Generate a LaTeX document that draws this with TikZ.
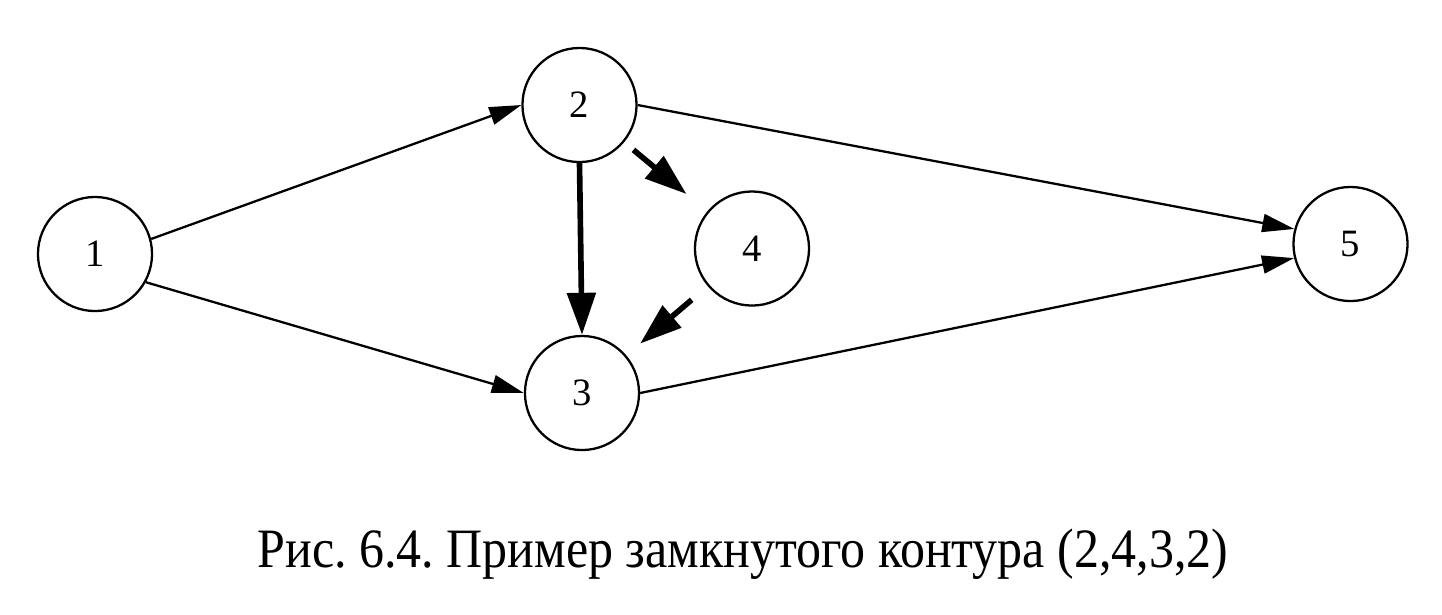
\documentclass[tikz,border=0pt]{standalone}
\usepackage{fontspec}
\setmainfont{Liberation Serif}
\usetikzlibrary{arrows.meta}
\begin{document}
\frenchspacing
\begin{tikzpicture}[x=0.01cm,y=-0.01cm,
  vertex/.style={circle,draw,line width=0.65pt,minimum size=1.14cm,inner sep=0pt,font=\fontsize{11}{13}\selectfont},
  thinarrow/.style={line width=0.65pt,-{Triangle[length=0.32cm,width=0.18cm]}},
  thickarrow/.style={line width=1.6pt,-{Triangle[length=0.42cm,width=0.28cm]}}]
\useasboundingbox[fill=white] (0,0) rectangle (1442,614);
\node[vertex] (n1) at (95,254) {1};
\node[vertex] (n2) at (579.5,105) {2};
\node[vertex] (n3) at (582,393) {3};
\node[vertex] (n4) at (752,248.5) {4};
\node[vertex] (n5) at (1350.5,244) {5};
\draw[thinarrow] (n1.15) -- (n2.west);
\draw[thinarrow] (n1.-29) -- (n3.west);
\draw[thinarrow] (n2.east) -- (n5.165);
\draw[thinarrow] (n3.east) -- (n5.-166);
\draw[thickarrow] (n2.south) -- (n3.north);
\draw[thickarrow,shorten <=0.12cm,shorten >=0.27cm] (n2) -- (n4);
\draw[thickarrow,shorten <=0.21cm,shorten >=0.18cm] (n4) -- (n3);
\node[anchor=base,inner sep=0pt,font=\fontsize{15.8}{18}\selectfont] (cap) at (743,567)
  {\resizebox{9.7cm}{\height}{Рис. 6.4. Пример замкнутого контура (2,4,3,2)}};
\end{tikzpicture}
\end{document}
